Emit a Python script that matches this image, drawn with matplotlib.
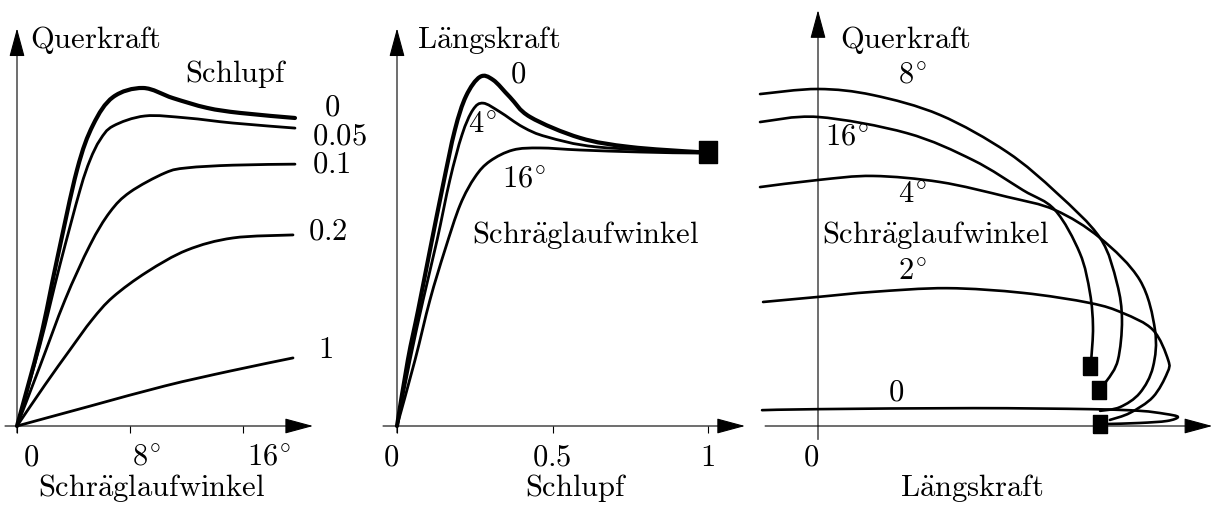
import numpy as np
import matplotlib
matplotlib.use("Agg")
from matplotlib import pyplot as plt
from matplotlib.path import Path
from matplotlib.patches import PathPatch

plt.rcParams['mathtext.fontset'] = 'cm'
plt.rcParams['font.family'] = ['serif']

W, H = 1212, 505

# Panel 1: Querkraft over Schraeglaufwinkel (deg) for several Schlupf values
p1_angle = {
    '0':    [0, 1.63, 2.83, 4.25, 5.38, 6.80, 8.92, 11.04, 13.45, 15.79, 19.68],
    '0.05': [0, 1.63, 3.04, 4.46, 5.17, 5.88, 6.80, 9.06, 12.04, 15.29, 19.68],
    '0.1':  [0, 1.63, 3.40, 5.17, 6.58, 8.00, 10.48, 12.04, 15.29, 19.68],
    '0.2':  [0, 1.98, 3.75, 5.31, 6.80, 9.20, 12.04, 15.29, 19.54],
    '1':    [0, 5.17, 10.48, 15.08, 19.54],
}
p1_force = {
    '0':    [0, .255, .493, .760, .893, .976, 1.003, .973, .944, .929, .914],
    '0.05': [0, .240, .478, .700, .789, .849, .890, .920, .914, .899, .884],
    '0.1':  [0, .178, .374, .537, .635, .694, .751, .766, .774, .777],
    '0.2':  [0, .122, .226, .315, .383, .457, .522, .558, .567],
    '1':    [0, .059, .119, .163, .202],
}
p1_ticks = [0, 8, 16]
p1_ticklabels = [r'$0$', r'$8^{\!\circ}$', r'$16^{\!\circ}$']

# Panel 2: Laengskraft over Schlupf for several Schraeglaufwinkel
p2_slip = {
    '0':  [0, .035, .068, .106, .148, .186, .222, .267, .309, .363, .428, .588, .749, .965],
    '4':  [0, .042, .084, .129, .170, .209, .244, .277, .331, .405, .482, .643, .965],
    '16': [0, .058, .106, .154, .203, .251, .299, .373, .460, .588, .781, .965],
}
p2_force = {
    '0':  [0, .196, .344, .522, .715, .878, .979, 1.036, 1.027, .976, .917, .855, .828, .813],
    '4':  [0, .196, .374, .552, .730, .864, .938, .958, .932, .887, .858, .828, .813],
    '16': [0, .196, .374, .522, .656, .739, .786, .819, .825, .819, .813, .810],
}
p2_end = (1.0, 0.813)
p2_ticks = [0, 0.5, 1]
p2_ticklabels = [r'$0$', r'$0.5$', r'$1$']

# Panel 3: Querkraft over Laengskraft for several Schraeglaufwinkel
p3_long = {
    '8':  [-0.172, 0, 0.163, 0.362, 0.561, 0.709, 0.837, 0.887, 0.902, 0.890, 0.858, 0.840],
    '16': [-0.172, 0, 0.264, 0.460, 0.608, 0.703, 0.777, 0.807, 0.816, 0.811],
    '4':  [-0.172, 0, 0.163, 0.362, 0.561, 0.703, 0.837, 0.955, 1.0, 0.994, 0.955, 0.896, 0.837],
    '2':  [-0.163, 0, 0.163, 0.383, 0.608, 0.807, 0.905, 0.994, 1.039, 1.036, 0.994, 0.926, 0.866],
    '0':  [-0.166, 0, 0.460, 0.807, 0.955, 1.030, 1.068, 1.036, 0.955, 0.861],
}
p3_lat = {
    '8':  [0.985, 1.0, 0.982, 0.923, 0.813, 0.691, 0.558, 0.424, 0.315, 0.196, 0.136, 0.125],
    '16': [0.902, 0.917, 0.869, 0.789, 0.700, 0.641, 0.513, 0.395, 0.294, 0.200],
    '4':  [0.709, 0.730, 0.742, 0.724, 0.680, 0.641, 0.558, 0.433, 0.285, 0.175, 0.098, 0.056, 0.045],
    '2':  [0.368, 0.383, 0.398, 0.409, 0.395, 0.365, 0.335, 0.285, 0.196, 0.157, 0.086, 0.039, 0.018],
    '0':  [0.047, 0.050, 0.053, 0.050, 0.045, 0.036, 0.027, 0.015, 0.009, 0.006],
}
p3_end_long = [0.806, 0.835, 0.838]
p3_end_lat = [0.177, 0.108, 0.006]


def smooth(x, y):
    pts = np.column_stack([x, y])
    verts, codes = [pts[0]], [Path.MOVETO]
    n = len(pts)
    for i in range(n - 1):
        p0, p1, p2, p3 = pts[max(i - 1, 0)], pts[i], pts[i + 1], pts[min(i + 2, n - 1)]
        verts += [p1 + (p2 - p0) / 6, p2 - (p3 - p1) / 6, p2]
        codes += [Path.CURVE4] * 3
    return Path(verts, codes)


def curve(ax, x, y, lw=2.0):
    ax.add_patch(PathPatch(smooth(x, y), fill=False, lw=lw, ec='black',
                           capstyle='round', joinstyle='round'))


def panel(x0, y0, sx, sy):
    ax = fig.add_axes([0, 0, 1, 1])
    ax.set_xlim(-x0 / sx, (W - x0) / sx)
    ax.set_ylim((y0 - H) / sy, y0 / sy)
    ax.axis('off')
    ax.patch.set_alpha(0)
    return ax


def arrow(ax, start, tip):
    ax.annotate('', xy=tip, xytext=start,
                arrowprops=dict(arrowstyle='-|>,head_length=1.0,head_width=0.27',
                                mutation_scale=18, lw=0.8, color='black',
                                shrinkA=0, shrinkB=0))


def txt(ax, x, y, s):
    ax.text(x, y, s, fontsize=22, ha='left', va='baseline')


# tall rectangle marker for the end points
rect = Path([(-0.41, -0.5), (0.41, -0.5), (0.41, 0.5), (-0.41, 0.5), (-0.41, -0.5)])

fig = plt.figure(figsize=(W / 100, H / 100), dpi=100)

# ---- panel 1
sy = 337
ax1 = panel(17, 426, 14.125, sy)
arrow(ax1, (-0.85, 0), (20.96, 0))
arrow(ax1, (0, -0.02), (0, 1.18))
ax1.vlines(p1_ticks, -0.022, 0, lw=0.8, color='black')
for k in p1_angle:
    curve(ax1, p1_angle[k], p1_force[k], lw=3.0 if k == '0' else 2.0)
for t, lab, dx in zip(p1_ticks, p1_ticklabels, [0.42, 0.14, 0.28]):
    txt(ax1, t + dx, -0.118, lab)
txt(ax1, 0.92, 1.122, r'$\mathrm{Querkraft}$')
txt(ax1, 11.89, 1.021, r'$\mathrm{Schlupf}$')
txt(ax1, 21.7, 0.922, r'$0$')
txt(ax1, 20.88, 0.834, r'$0.05$')
txt(ax1, 20.88, 0.751, r'$0.1$')
txt(ax1, 20.60, 0.552, r'$0.2$')
txt(ax1, 21.31, 0.202, r'$1$')
txt(ax1, 1.49, -0.208, r'$\mathrm{Schr\ddot{a}glaufwinkel}$')

# ---- panel 2
ax2 = panel(397, 426, 311, sy)
arrow(ax2, (-0.045, 0), (1.119, 0))
arrow(ax2, (0, -0.02), (0, 1.18))
ax2.vlines(p2_ticks, -0.022, 0, lw=0.8, color='black')
for k in p2_slip:
    curve(ax2, p2_slip[k] + [p2_end[0]], p2_force[k] + [p2_end[1]],
          lw=3.0 if k == '0' else 2.0)
ax2.plot([p2_end[0]], [p2_end[1]], ls='none', marker=rect, ms=16, color='black')
for t, lab, dx in zip(p2_ticks, p2_ticklabels, [-0.045, -0.066, -0.026]):
    txt(ax2, t + dx, -0.118, lab)
txt(ax2, 0.064, 1.122, r'$\mathrm{L\ddot{a}ngskraft}$')
txt(ax2, 0.363, 1.018, r'$0$')
txt(ax2, 0.228, 0.869, r'$4^{\!\circ}$')
txt(ax2, 0.338, 0.709, r'$16^{\!\circ}$')
txt(ax2, 0.241, 0.543, r'$\mathrm{Schr\ddot{a}glaufwinkel}$')
txt(ax2, 0.412, -0.208, r'$\mathrm{Schlupf}$')

# ---- panel 3
ax3 = panel(818, 426, sy, sy)
arrow(ax3, (-0.157, 0), (1.17, 0))
arrow(ax3, (0, -0.04), (0, 1.234))
for k in p3_long:
    curve(ax3, p3_long[k], p3_lat[k], lw=1.9)
ax3.plot(p3_end_long, p3_end_lat, ls='none', marker=rect, ms=13, color='black')
txt(ax3, -0.045, -0.118, r'$0$')
txt(ax3, 0.065, 1.122, r'$\mathrm{Querkraft}$')
txt(ax3, 0.237, 1.018, r'$8^{\!\circ}$')
txt(ax3, 0.021, 0.834, r'$16^{\!\circ}$')
txt(ax3, 0.237, 0.662, r'$4^{\!\circ}$')
txt(ax3, 0.012, 0.543, r'$\mathrm{Schr\ddot{a}glaufwinkel}$')
txt(ax3, 0.237, 0.433, r'$2^{\!\circ}$')
txt(ax3, 0.208, 0.077, r'$0$')
txt(ax3, 0.243, -0.208, r'$\mathrm{L\ddot{a}ngskraft}$')

fig.savefig('out.png', dpi=100)
